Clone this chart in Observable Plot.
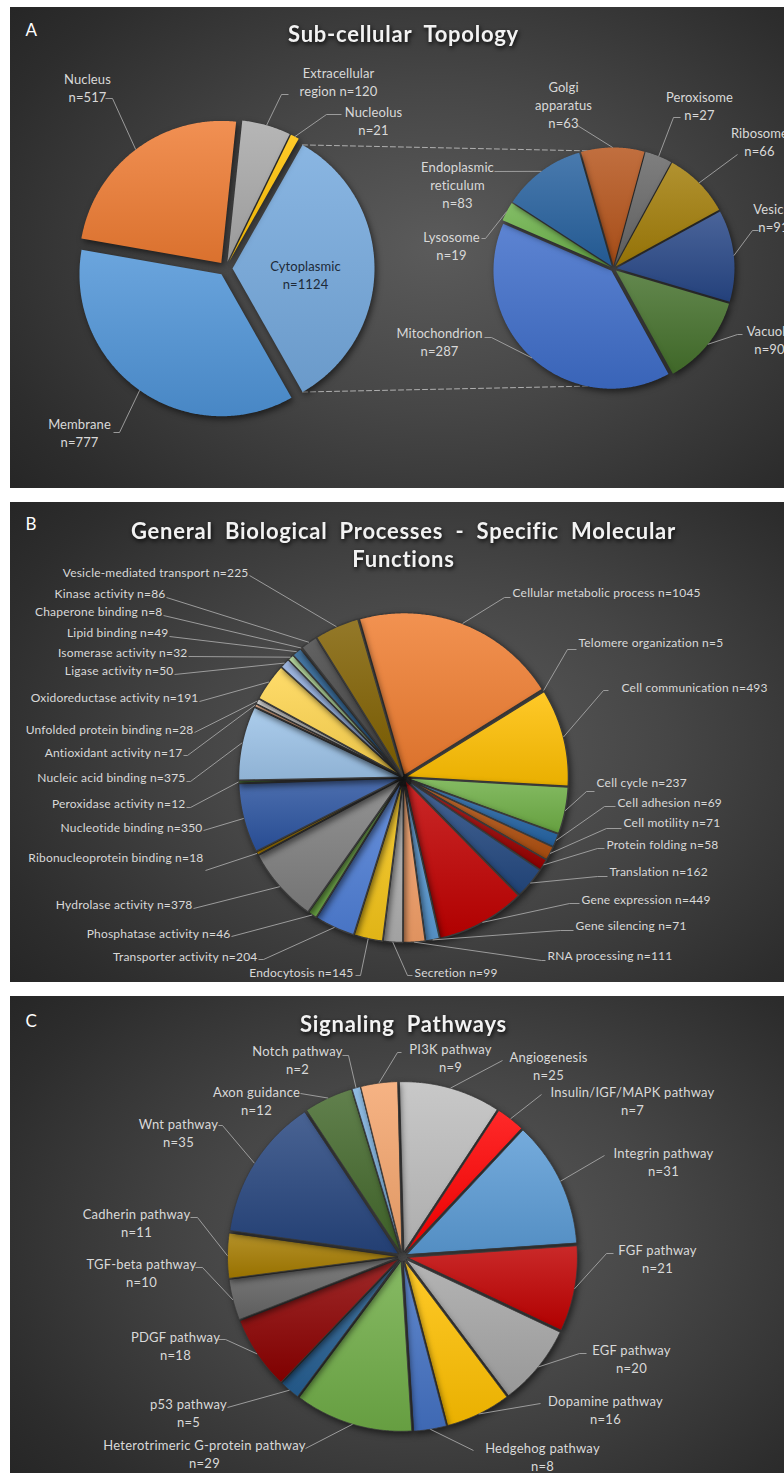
<!DOCTYPE html>
<html>
<head>
<meta charset="utf-8">
<script src="https://cdn.jsdelivr.net/npm/d3@7"></script>
<script src="https://cdn.jsdelivr.net/npm/@observablehq/plot@0.6"></script>
<style>
html, body { margin: 0; padding: 0; background: #ffffff; width: 784px; height: 1473px; overflow: hidden; }
.panel { position: absolute; left: 10px; width: 774px; overflow: hidden; }
.panel svg { display: block; }
g[aria-description="slices"] path { filter: drop-shadow(2px 3px 3px rgba(0,0,0,0.55)); }
g[aria-description="title"] text { white-space: pre; letter-spacing: 0.75px; filter: drop-shadow(1px 2px 2px rgba(0,0,0,0.85)); }
g[aria-description="labels-a"] text { letter-spacing: 0.1px; }
g[aria-description="labels-b"] text { letter-spacing: 0.2px; }
g[aria-description="labels-c"] text { letter-spacing: 0.25px; }
</style>
</head>
<body>
<div id="panelA" class="panel" style="top:7px;height:481px"></div>
<div id="panelB" class="panel" style="top:502px;height:480px"></div>
<div id="panelC" class="panel" style="top:996px;height:477px"></div>
<script>
// ================= DATA =================
// Panel A – Sub-cellular topology (pie of pie)
const topoPrimaryNames  = ["Cytoplasmic", "Membrane", "Nucleus", "Extracellular region", "Nucleolus"];
const topoPrimaryCounts = [1124, 777, 517, 120, 21];
const topoSecondaryNames  = ["Golgi apparatus", "Peroxisome", "Ribosome", "Vesicle", "Vacuole", "Mitochondrion", "Lysosome", "Endoplasmic reticulum"];
const topoSecondaryCounts = [63, 27, 66, 91, 90, 287, 19, 83];

// Panel B – General biological processes / specific molecular functions
const processNames = [
  "Cellular metabolic process", "Telomere organization", "Cell communication", "Cell cycle",
  "Cell adhesion", "Cell motility", "Protein folding", "Translation", "Gene expression",
  "Gene silencing", "RNA processing", "Secretion", "Endocytosis", "Transporter activity",
  "Phosphatase activity", "Hydrolase activity", "Ribonucleoprotein binding", "Nucleotide binding",
  "Peroxidase activity", "Nucleic acid binding", "Antioxidant activity", "Unfolded protein binding",
  "Oxidoreductase activity", "Ligase activity", "Isomerase activity", "Lipid binding",
  "Chaperone binding", "Kinase activity", "Vesicle-mediated transport"
];
const processCounts = [1045, 5, 493, 237, 69, 71, 58, 162, 449, 71, 111, 99, 145, 204, 46, 378, 18, 350, 12, 375, 17, 28, 191, 50, 32, 49, 8, 86, 225];

// Panel C – Signaling pathways
const pathwayNames = [
  "Angiogenesis", "Insulin/IGF/MAPK pathway", "Integrin pathway", "FGF pathway", "EGF pathway",
  "Dopamine pathway", "Hedgehog pathway", "Heterotrimeric G-protein pathway", "p53 pathway",
  "PDGF pathway", "TGF-beta pathway", "Cadherin pathway", "Wnt pathway", "Axon guidance",
  "Notch pathway", "PI3K pathway"
];
const pathwayCounts = [25, 7, 31, 21, 20, 16, 8, 29, 5, 18, 10, 11, 35, 12, 2, 9];

const titles = ["Sub-cellular  Topology", "General  Biological  Processes  -  Specific  Molecular\nFunctions", "Signaling  Pathways"];
const panelLetters = ["A", "B", "C"];

// ================= STYLES =================
const colorsPrimary = ["#74a8dd", "#4f94d7", "#ee7b32", "#a8a8a8", "#ffc000"];
const colorsSecondary = ["#b5541a", "#676767", "#a27d08", "#274787", "#45712c", "#3e6dc9", "#6cb24a", "#26619f"];
const colorsProcess = ["#ef7d30", "#5b9bd5", "#ffbf00", "#6eae45", "#2565a5", "#b0500f", "#9a0000", "#234880",
  "#c00000", "#5b9bd5", "#f4a068", "#b0b0b0", "#f5c518", "#4f7fd6", "#70ad47", "#7f7f7f", "#d9a000",
  "#2b53a0", "#4e8a2e", "#9cc3e8", "#f4b183", "#cfcfcf", "#ffd54f", "#8eaadb", "#a9d18e", "#255e91",
  "#c55a11", "#454545", "#806000"];
const colorsPathway = ["#bdbdbd", "#ff0000", "#5b9bd5", "#c00000", "#a6a6a6", "#ffc000", "#4472c4", "#70ad47",
  "#255e91", "#8b0000", "#666666", "#a67c00", "#26457e", "#43682b", "#7cafdd", "#f4a56c"];

const BG = "radial-gradient(ellipse 75% 85% at 55% 50%, #5b5b5b 0%, #464646 40%, #2d2d2d 80%, #232323 100%)";
const LABEL = "#d9d9d9", LEADER = "#a6a6a6", FONT = "Lato, 'Open Sans', sans-serif";

// ================= LAYOUT =================
const geoPrimary   = {cx: 225, cy: 268, r: 142, start: 29.5, explode: 7};
const geoSecondary = {cx: 613, cy: 268, r: 118, start: 344, explode: 3};
const geoProcess   = {cx: 403, cy: 777, r: 163, start: 344, explode: 2};
const geoPathway   = {cx: 402, cy: 1256, r: 170, start: -1.5, explode: 5};
const headerPos = [{title: [403, 33], letter: [25, 30]}, {title: [403, 544], letter: [25, 524]}, {title: [403, 1023], letter: [25, 1021]}];

const labelPosPrimary = [[305, 274], [79, 432], [87, 87], [338, 81], [373, 120]];
const leaderPrimary = [null, [[113, 432], [119, 432]], [[105, 98], [112, 98]], [[288, 94], [281, 94]], [[341, 114], [326, 114]]];
const labelPosSecondary = [[563, 104], [699, 105], [759, 141], [773, 217], [769, 339], [439, 341], [451, 245], [457, 184]];
const leaderSecondary = [[[577, 125], [577, 125]], [[680, 117], [673, 117]], [[737, 154], [737, 154]], [[758, 230], [752, 230]],
  [[742, 334], [737, 334]], [[484, 337], [491, 337]], [[481, 238], [485, 238]], [[494, 171], [494, 171]]];

const labelPosProcess = [
  ["start", 512, 593], ["start", 578, 643], ["start", 621, 688], ["start", 596, 783], ["start", 617, 803],
  ["start", 623, 823], ["start", 606, 845], ["start", 609, 872], ["start", 581, 900], ["start", 575, 926],
  ["start", 547, 956], ["start", 414, 973], ["end", 353, 973], ["end", 257, 957], ["end", 230, 934],
  ["end", 192, 905], ["end", 203, 858], ["end", 202, 828], ["end", 185, 804], ["end", 185, 778],
  ["end", 182, 753], ["end", 193, 730], ["end", 198, 698], ["end", 173, 671], ["end", 187, 653],
  ["end", 168, 633], ["end", 162, 612], ["end", 165, 594], ["end", 248, 573]
];
const leaderProcess = [
  [[510, 597], [504, 597]], [[576, 649], [567, 649]], [[608, 690], [603, 690]], [[594, 791], [586, 791]],
  [[615, 806], [604, 806]], [[621, 828], [606, 828]], [[604, 848], [597, 848]], [[607, 876], [597, 876]],
  [[579, 903], [569, 903]], [[573, 930], [560, 930]], [[545, 960], [541, 960]], [[412, 975], [407, 975]],
  [[355, 975], [360, 975]], [[258, 959], [263, 959]], [[231, 936], [231, 936]], [[193, 908], [193, 908]],
  [[205, 870], [205, 870]], [[203, 830], [203, 830]], [[186, 807], [190, 807]], [[186, 781], [190, 781]],
  [[183, 755], [187, 755]], [[194, 732], [194, 732]], [[199, 701], [199, 701]], [[174, 674], [174, 674]],
  [[188, 656], [188, 656]], [[169, 636], [169, 636]], [[163, 615], [163, 615]], [[166, 597], [166, 597]],
  [[249, 575], [249, 575]]
];

const labelPosPathway = [[548, 1065], [632, 1100], [663, 1161], [657, 1258], [631, 1358], [605, 1409], [542, 1456],
  [204, 1453], [188, 1412], [175, 1345], [141, 1272], [136, 1222], [178, 1132], [256, 1100], [297, 1059], [450, 1057]];
const leaderPathway = [
  [[502, 1060], [502, 1060]], [[541, 1094], [541, 1094]], [[604, 1155], [604, 1155]], [[613, 1253], [606, 1253]],
  [[586, 1353], [579, 1353]], [[540, 1403], [540, 1403]], [[473, 1450], [473, 1450]], [[305, 1448], [305, 1448]],
  [[227, 1407], [227, 1407]], [[218, 1339], [225, 1339]], [[195, 1267], [202, 1267]], [[190, 1217], [197, 1217]],
  [[218, 1125], [222, 1125]], [[300, 1093], [300, 1093]], [[342, 1055], [348, 1055]], [[401, 1052], [397, 1052]]
];

// ================= HELPERS =================
const rad = Math.PI / 180;
const defs = d3.select("body").append("svg")
  .attr("width", 0).attr("height", 0).style("position", "absolute").append("defs");
function addGradient(id, color) {
  const g = defs.append("linearGradient").attr("id", id).attr("x1", 0).attr("y1", 0).attr("x2", 0).attr("y2", 1);
  g.append("stop").attr("offset", "0%").attr("stop-color", d3.interpolateRgb(color, "#ffffff")(0.16));
  g.append("stop").attr("offset", "100%").attr("stop-color", d3.color(color).darker(0.25).formatHex());
}

function pieSlices(values, geo, colors, key) {
  const arcs = d3.pie().sort(null).value(d => d)
    .startAngle(geo.start * rad).endAngle((geo.start + 360) * rad)(values);
  return arcs.map((a, i) => {
    const mid = (a.startAngle + a.endAngle) / 2;
    const ox = geo.cx + geo.explode * Math.sin(mid), oy = geo.cy - geo.explode * Math.cos(mid);
    const id = key + i;
    addGradient(id, colors[i]);
    return {i, id, a0: a.startAngle, a1: a.endAngle, mid, ox, oy, r: geo.r,
      mx: ox + geo.r * Math.sin(mid), my: oy - geo.r * Math.cos(mid)};
  });
}
function slicePoints(slices) {
  const pts = [];
  for (const s of slices) {
    const fill = `url(#${s.id})`;
    pts.push({id: s.id, x: s.ox, y: s.oy, fill});
    const n = Math.max(2, Math.ceil((s.a1 - s.a0) / (0.5 * rad)));
    for (let k = 0; k <= n; k++) {
      const a = s.a0 + (s.a1 - s.a0) * k / n;
      pts.push({id: s.id, x: s.ox + s.r * Math.sin(a), y: s.oy - s.r * Math.cos(a), fill});
    }
  }
  return pts;
}
function leaderPoints(slices, starts) {
  const pts = [];
  slices.forEach((s, i) => {
    const st = starts[i];
    if (!st) return;
    pts.push({id: s.id, x: st[0][0], y: st[0][1]}, {id: s.id, x: st[1][0], y: st[1][1]}, {id: s.id, x: s.mx, y: s.my});
  });
  return pts;
}
function sliceMark(slices, stroke, strokeWidth) {
  return Plot.line(slicePoints(slices), {x: "x", y: "y", z: "id", fill: "fill", stroke, strokeWidth,
    curve: "linear-closed", strokeLinejoin: "round", ariaDescription: "slices"});
}
function leaderMark(slices, starts) {
  return Plot.line(leaderPoints(slices, starts), {x: "x", y: "y", z: "id", stroke: LEADER, strokeWidth: 0.9,
    strokeLinecap: "butt"});
}
function headerMarks(idx) {
  const p = headerPos[idx];
  return [
    Plot.text([titles[idx]], {x: () => p.title[0], y: () => p.title[1], text: d => d, fontSize: 22, fontWeight: "bold",
      fill: "#f2f2f2", fontFamily: FONT, lineHeight: 1.27, lineAnchor: "middle", ariaDescription: "title"}),
    Plot.text([panelLetters[idx]], {x: () => p.letter[0], y: () => p.letter[1], text: d => d, fontSize: 17,
      fill: "#ffffff", fontFamily: FONT, textAnchor: "start", lineAnchor: "middle"})
  ];
}
function panel(el, top, height, marks) {
  const svg = Plot.plot({
    width: 774, height, margin: 0,
    x: {domain: [10, 784], range: [0, 774], axis: null},
    y: {domain: [top, top + height], range: [0, height], axis: null},
    color: {type: "identity"},
    style: {background: BG, overflow: "hidden", fontFamily: FONT},
    marks
  });
  document.getElementById(el).appendChild(svg);
}
const wrapA = {"Extracellular region": "Extracellular\nregion ", "Golgi apparatus": "Golgi\napparatus\n",
  "Endoplasmic reticulum": "Endoplasmic\nreticulum\n"};
const labelA = (name, n) => (wrapA[name] ?? name + "\n") + "n=" + n;

// ================= PANEL A =================
{
  const primaryValues = topoPrimaryCounts.map((c, i) => i === 0 ? d3.sum(topoSecondaryCounts) : c);
  const prim = pieSlices(primaryValues, geoPrimary, colorsPrimary, "pA");
  const sec = pieSlices(topoSecondaryCounts, geoSecondary, colorsSecondary, "sA");
  const cyto = prim[0];
  const conn = [
    {id: "top", x: cyto.ox + cyto.r * Math.sin(cyto.a0), y: cyto.oy - cyto.r * Math.cos(cyto.a0)},
    {id: "top", x: geoSecondary.cx + geoSecondary.r * Math.sin(-6 * rad), y: geoSecondary.cy - geoSecondary.r * Math.cos(-6 * rad)},
    {id: "bot", x: cyto.ox + cyto.r * Math.sin(cyto.a1), y: cyto.oy - cyto.r * Math.cos(cyto.a1)},
    {id: "bot", x: geoSecondary.cx + geoSecondary.r * Math.sin(186 * rad), y: geoSecondary.cy - geoSecondary.r * Math.cos(186 * rad)}
  ];
  const outerLabels = [
    ...topoPrimaryNames.map((n, i) => ({i, text: labelA(n, topoPrimaryCounts[i]), x: labelPosPrimary[i][0], y: labelPosPrimary[i][1]})).filter(d => d.i > 0),
    ...topoSecondaryNames.map((n, i) => ({text: labelA(n, topoSecondaryCounts[i]), x: labelPosSecondary[i][0], y: labelPosSecondary[i][1]}))
  ];
  panel("panelA", 7, 481, [
    Plot.line(conn, {x: "x", y: "y", z: "id", stroke: "#b0b0b0", strokeWidth: 1, strokeDasharray: "5,3"}),
    sliceMark(prim, "none", 0),
    sliceMark(sec, "none", 0),
    leaderMark(prim, leaderPrimary),
    leaderMark(sec, leaderSecondary),
    Plot.text(outerLabels, {x: "x", y: "y", text: "text", fill: LABEL, fontSize: 13, fontFamily: FONT,
      lineHeight: 1.38, lineAnchor: "middle", ariaDescription: "labels-a"}),
    Plot.text([{text: labelA(topoPrimaryNames[0], topoPrimaryCounts[0]), x: labelPosPrimary[0][0], y: labelPosPrimary[0][1]}],
      {x: "x", y: "y", text: "text", fill: "#1d2a38", fontSize: 13, fontFamily: FONT, lineHeight: 1.38,
       lineAnchor: "middle", ariaDescription: "labels-a"}),
    ...headerMarks(0)
  ]);
}

// ================= PANEL B =================
{
  const sl = pieSlices(processCounts, geoProcess, colorsProcess, "pB");
  const labels = processNames.map((n, i) => ({text: `${n} n=${processCounts[i]}`, anchor: labelPosProcess[i][0],
    x: labelPosProcess[i][1], y: labelPosProcess[i][2]}));
  panel("panelB", 502, 480, [
    sliceMark(sl, "#3b3b3b", 1.4),
    leaderMark(sl, leaderProcess),
    Plot.text(labels.filter(d => d.anchor === "start"), {x: "x", y: "y", text: "text", textAnchor: "start",
      fill: LABEL, fontSize: 12, fontFamily: FONT, lineAnchor: "middle", ariaDescription: "labels-b"}),
    Plot.text(labels.filter(d => d.anchor === "end"), {x: "x", y: "y", text: "text", textAnchor: "end",
      fill: LABEL, fontSize: 12, fontFamily: FONT, lineAnchor: "middle", ariaDescription: "labels-b"}),
    ...headerMarks(1)
  ]);
}

// ================= PANEL C =================
{
  const sl = pieSlices(pathwayCounts, geoPathway, colorsPathway, "pC");
  const labels = pathwayNames.map((n, i) => ({text: `${n}\nn=${pathwayCounts[i]}`, x: labelPosPathway[i][0], y: labelPosPathway[i][1]}));
  panel("panelC", 996, 477, [
    sliceMark(sl, "#3a3a3a", 0.8),
    leaderMark(sl, leaderPathway),
    Plot.text(labels, {x: "x", y: "y", text: "text", fill: LABEL, fontSize: 13, fontFamily: FONT,
      lineHeight: 1.38, lineAnchor: "middle", ariaDescription: "labels-c"}),
    ...headerMarks(2)
  ]);
}
</script>
</body>
</html>
